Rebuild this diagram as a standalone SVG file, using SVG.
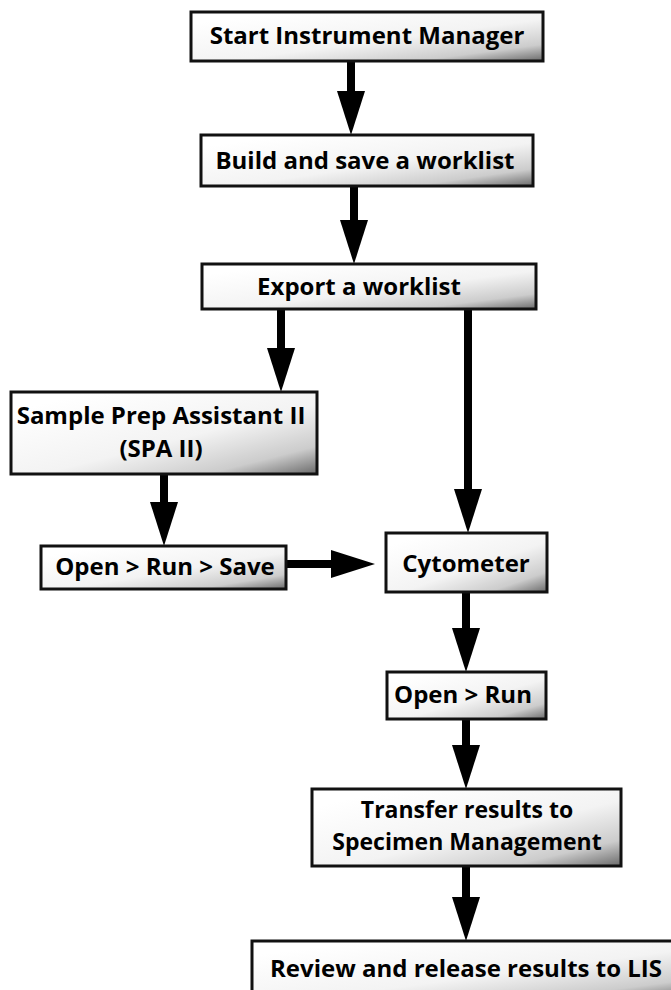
<svg xmlns="http://www.w3.org/2000/svg" width="671" height="990" viewBox="0 0 671 990">
<defs>
<linearGradient id="g" x1="0.15" y1="0.1" x2="1" y2="1">
<stop offset="0" stop-color="#ffffff"/>
<stop offset="0.5" stop-color="#f3f3f3"/>
<stop offset="0.8" stop-color="#cccccc"/>
<stop offset="1" stop-color="#6a6a6a"/>
</linearGradient>
<marker id="ah" viewBox="0 0 44 28" refX="0" refY="14" markerWidth="44" markerHeight="28" markerUnits="userSpaceOnUse" orient="auto">
<path d="M0,0 L44,14 L0,28 Z" fill="#000"/>
</marker>
<style>
.box{fill:url(#g);stroke:#111;stroke-width:3}
.t{font-family:"Open Sans","Liberation Sans",sans-serif;font-weight:700;font-size:24px;fill:#000;text-anchor:middle}
.s{font-size:23px}
.c{stroke:#000;stroke-width:8;fill:none;marker-end:url(#ah)}
</style>
</defs>
<rect width="671" height="990" fill="#fff"/>
<g id="connectors">
<line class="c" x1="351" y1="61" x2="351" y2="91"/>
<line class="c" x1="354" y1="186" x2="354" y2="220"/>
<line class="c" x1="281" y1="309" x2="281" y2="348"/>
<line class="c" x1="468" y1="309" x2="468" y2="489"/>
<line class="c" x1="164" y1="474" x2="164" y2="502"/>
<line class="c" x1="286" y1="564" x2="331" y2="564"/>
<line class="c" x1="466" y1="592" x2="466" y2="628"/>
<line class="c" x1="466" y1="719" x2="466" y2="745"/>
<line class="c" x1="466" y1="866" x2="466" y2="897"/>
</g>
<g id="n1"><rect class="box" x="191" y="12" width="352" height="49"/><text class="t" x="367" y="44">Start Instrument Manager</text></g>
<g id="n2"><rect class="box" x="201" y="135" width="332" height="51"/><text class="t" x="365" y="169">Build and save a worklist</text></g>
<g id="n3"><rect class="box" x="202" y="264" width="334" height="45"/><text class="t" x="359" y="295">Export a worklist</text></g>
<g id="n4"><rect class="box" x="11" y="392" width="306" height="82"/><text class="t" x="161" y="424">Sample Prep Assistant II</text><text class="t" x="161" y="457">(SPA II)</text></g>
<g id="n5"><rect class="box" x="41" y="546" width="245" height="43"/><text class="t" x="165" y="575">Open &gt; Run &gt; Save</text></g>
<g id="n6"><rect class="box" x="386" y="533" width="161" height="59"/><text class="t" x="466" y="572">Cytometer</text></g>
<g id="n7"><rect class="box" x="387" y="672" width="159" height="47"/><text class="t" x="463" y="703">Open &gt; Run</text></g>
<g id="n8"><rect class="box" x="312" y="789" width="309" height="77"/><text class="t s" x="467" y="818">Transfer results to</text><text class="t s" x="467" y="850">Specimen Management</text></g>
<g id="n9"><rect class="box" x="252" y="941" width="430" height="60"/><text class="t" x="466" y="977">Review and release results to LIS</text></g>
</svg>
